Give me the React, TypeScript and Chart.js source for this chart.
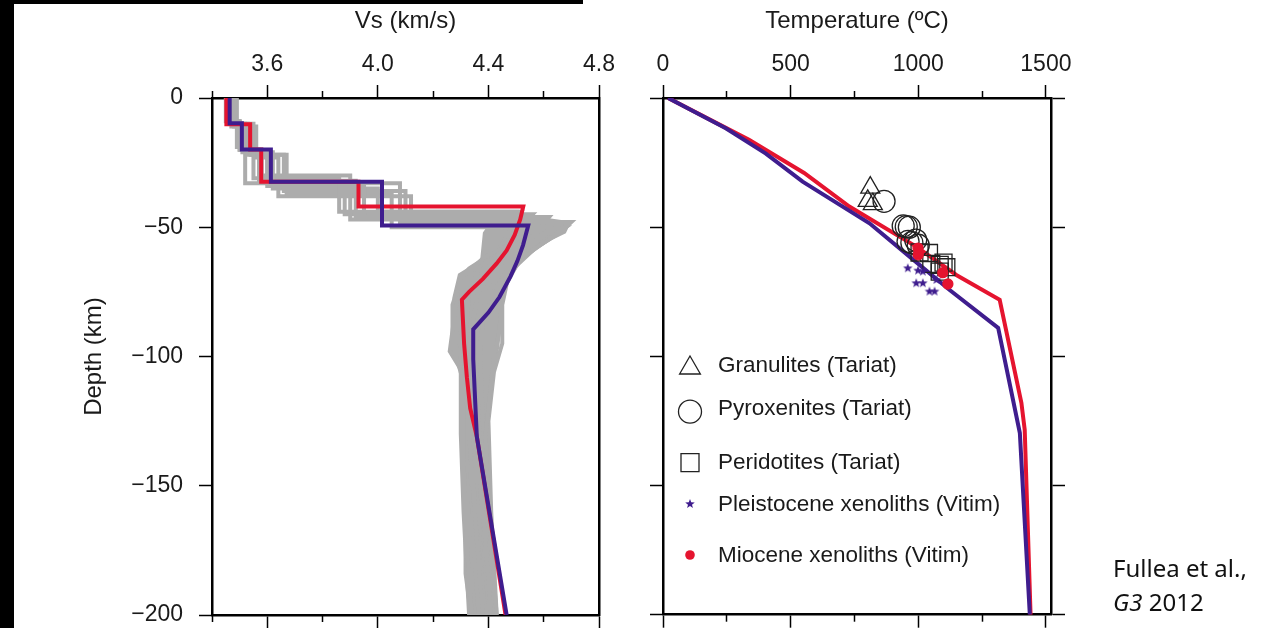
import React, { useEffect, useRef } from 'react';
import { Chart, registerables } from 'chart.js';

Chart.register(...registerables);

const FONT = '"Liberation Sans", Arial, Helvetica, sans-serif';
const RED = '#e5142f';
const PURPLE = '#3f1d8e';
const GRAY = '#acacac';
const INK = '#1a1a1a';

// ---------- axes ----------
const VS_MAJOR_TICKS = [3.6, 4.0, 4.4, 4.8];
const VS_TICK_LABELS = ['3.6', '4.0', '4.4', '4.8'];
const VS_MINOR_TICKS = [3.4, 3.8, 4.2, 4.6];
const DEPTH_TICKS = [0, -50, -100, -150, -200];
const DEPTH_TICK_LABELS = ['0', '\u221250', '\u2212100', '\u2212150', '\u2212200'];
const TEMP_MAJOR_TICKS = [0, 500, 1000, 1500];
const TEMP_TICK_LABELS = ['0', '500', '1000', '1500'];
const TEMP_MINOR_TICKS = [250, 750, 1250];

// ---------- left panel: Vs profiles ----------
const purpleCrustVs = [3.464, 3.508, 3.613, 4.015];
const purpleCrustBase = [-9.8, -19.9, -32.4, -49.3];
const purpleMantleVs = [4.544, 4.525, 4.505, 4.48, 4.44, 4.4, 4.345, 4.345, 4.358, 4.466];
const purpleMantleDepth = [-49.3, -57, -63, -69, -77, -83, -89.5, -101, -131, -200];

const redCrustVs = [3.452, 3.538, 3.578, 3.93];
const redCrustBase = [-10.2, -19.9, -32.4, -42];
const redMantleVs = [4.526, 4.515, 4.495, 4.466, 4.43, 4.38, 4.33, 4.304, 4.312, 4.322, 4.334, 4.358, 4.462];
const redMantleDepth = [-42, -47, -53, -59, -64, -70, -75, -78, -95, -108, -120, -131, -200];

const grayCrustVs = [
  [3.46, 3.5, 3.55, 3.86],
  [3.47, 3.52, 3.6, 3.95],
  [3.48, 3.54, 3.66, 4.1],
  [3.46, 3.53, 3.58, 3.9],
  [3.45, 3.49, 3.52, 3.88],
  [3.49, 3.56, 3.64, 4.12],
  [3.47, 3.51, 3.62, 4.0],
  [3.48, 3.55, 3.67, 4.05],
  [3.46, 3.5, 3.57, 3.92],
  [3.47, 3.53, 3.6, 4.08],
];
const grayCrustBase = [
  [-9, -20, -31, -44],
  [-10, -21, -34, -46],
  [-11, -22, -36, -48],
  [-10, -20, -30, -47],
  [-9, -19, -33, -45],
  [-11, -23, -38, -49],
  [-10, -21, -35, -44],
  [-10, -22, -37, -50],
  [-9, -20, -32, -46],
  [-11, -22, -33, -48],
];
const grayMantleVs = [
  [4.52, 4.48, 4.4, 4.33, 4.3, 4.31, 4.33, 4.35, 4.38],
  [4.62, 4.55, 4.46, 4.4, 4.36, 4.35, 4.36, 4.38, 4.41],
  [4.7, 4.66, 4.57, 4.5, 4.45, 4.44, 4.42, 4.39, 4.4, 4.43],
  [4.6, 4.5, 4.38, 4.3, 4.27, 4.27, 4.31, 4.31, 4.32, 4.34],
  [4.56, 4.47, 4.35, 4.29, 4.27, 4.26, 4.3, 4.3, 4.31, 4.33],
  [4.66, 4.58, 4.48, 4.42, 4.38, 4.37, 4.38, 4.39, 4.42],
  [4.5, 4.44, 4.37, 4.33, 4.32, 4.33, 4.34, 4.36, 4.39],
  [4.68, 4.6, 4.52, 4.47, 4.45, 4.45, 4.42, 4.4, 4.41, 4.43],
  [4.58, 4.49, 4.33, 4.3, 4.28, 4.28, 4.32, 4.32, 4.33, 4.35],
  [4.64, 4.52, 4.42, 4.36, 4.34, 4.35, 4.36, 4.38, 4.4],
];
const grayMantleDepth = [
  [-44, -55, -65, -75, -90, -100, -130, -160, -200],
  [-46, -55, -65, -75, -90, -100, -130, -160, -200],
  [-48, -52, -58, -65, -75, -90, -100, -130, -160, -200],
  [-47, -55, -62, -70, -80, -95, -110, -140, -170, -200],
  [-45, -55, -65, -75, -90, -98, -105, -130, -160, -200],
  [-49, -55, -63, -72, -85, -100, -125, -160, -200],
  [-44, -55, -65, -75, -90, -110, -140, -170, -200],
  [-50, -56, -62, -70, -80, -95, -106, -125, -160, -200],
  [-46, -55, -66, -70, -78, -95, -110, -140, -170, -200],
  [-48, -56, -66, -76, -90, -110, -135, -165, -200],
];
const grayEnvelopeVs = [4.4, 4.52, 4.62, 4.7, 4.68, 4.63, 4.59, 4.54, 4.5, 4.47, 4.45, 4.45, 4.44, 4.42, 4.4, 4.39, 4.4, 4.42, 4.43,
  4.33, 4.31, 4.31, 4.3, 4.31, 4.26, 4.27, 4.27, 4.29, 4.37, 4.38];
const grayEnvelopeDepth = [-49, -46, -46.5, -47.8, -52.3, -54.9, -57.5, -61.4, -65.2, -70.4, -76.8, -83, -96, -106.5, -126, -132, -158, -184, -200,
  -200, -184, -158, -132, -106.5, -97, -83, -77, -68, -62.7, -52];

// ---------- right panel: geotherms and xenoliths ----------
const purpleGeoT = [20, 246, 403, 547, 809, 966, 1123, 1313, 1398, 1437];
const purpleGeoDepth = [0, -11.7, -21.5, -32.4, -48.5, -61.4, -74.3, -89, -129.7, -200];
const redGeoT = [20, 337, 553, 730, 992, 1149, 1319, 1404, 1417, 1440];
const redGeoDepth = [0, -16.2, -29, -42, -57.5, -68.5, -78.1, -118, -128.4, -200];

const granuliteT = [812, 802, 822];
const granuliteDepth = [-34.7, -39.8, -41.1];
const pyroxeniteT = [866, 941, 953, 965, 960, 975, 990, 1000];
const pyroxeniteDepth = [-40, -49.5, -49.8, -50, -55.5, -56, -55, -57];
const peridotiteT = [1005, 1042, 1051, 1084, 1099, 1110, 1084];
const peridotiteDepth = [-59.8, -60, -64.2, -64.6, -63.7, -65.5, -67.2];
const pleistoceneT = [959, 999, 1018, 992, 1018, 1044, 1064, 1071];
const pleistoceneDepth = [-65.9, -66.8, -67.2, -71.7, -71.7, -74.9, -74.9, -70.4];
const mioceneT = [999, 1000, 1096, 1116];
const mioceneDepth = [-58.1, -60.7, -67.6, -72];

const LEGEND_LABELS = [
  'Granulites (Tariat)',
  'Pyroxenites (Tariat)',
  'Peridotites (Tariat)',
  'Pleistocene xenoliths (Vitim)',
  'Miocene xenoliths (Vitim)',
];
const LEGEND_SYMBOLS = ['triangle', 'circle', 'square', 'star', 'dot'];

// ---------- helpers ----------
const zip = (xs: number[], ys: number[]) => xs.map((x, i) => ({ x, y: ys[i] }));

function stepProfile(crustVs: number[], crustBase: number[], mantleVs: number[], mantleDepth: number[]) {
  const pts: { x: number; y: number }[] = [];
  let top = 0;
  crustVs.forEach((v, i) => {
    pts.push({ x: v, y: top });
    pts.push({ x: v, y: crustBase[i] });
    top = crustBase[i];
  });
  mantleVs.forEach((v, i) => pts.push({ x: v, y: mantleDepth[i] }));
  return pts;
}

function makeStarImage(outer: number, color: string) {
  const size = Math.ceil(outer * 2 + 2);
  const c = document.createElement('canvas');
  c.width = size;
  c.height = size;
  const g = c.getContext('2d')!;
  g.fillStyle = color;
  g.beginPath();
  for (let k = 0; k < 10; k++) {
    const r = k % 2 === 0 ? outer : outer * 0.42;
    const a = -Math.PI / 2 + (k * Math.PI) / 5;
    const px = size / 2 + r * Math.cos(a);
    const py = size / 2 + r * Math.sin(a);
    if (k === 0) g.moveTo(px, py);
    else g.lineTo(px, py);
  }
  g.closePath();
  g.fill();
  return c;
}

const setTicks = (values: number[]) => (scale: any) => {
  scale.ticks = values.map((value) => ({ value }));
};

function markAxis(position: string, min: number, max: number, values: number[], tickLength: number, size: number, weight: number, border: boolean) {
  const horizontal = position === 'top' || position === 'bottom';
  return {
    type: 'linear',
    display: true,
    position,
    min,
    max,
    weight,
    afterBuildTicks: setTicks(values),
    afterFit: (scale: any) => {
      if (horizontal) scale.height = size;
      else scale.width = size;
      scale.paddingTop = 0;
      scale.paddingBottom = 0;
      scale.paddingLeft = 0;
      scale.paddingRight = 0;
    },
    ticks: { display: false },
    grid: {
      display: tickLength > 0,
      drawOnChartArea: false,
      drawTicks: tickLength > 0,
      tickLength,
      tickWidth: 1.5,
      tickColor: '#000',
      color: '#000',
    },
    border: { display: border, width: 2.5, color: '#000' },
  };
}

function labelledTopAxis(min: number, max: number, values: number[], labels: string[], title: string) {
  const axis: any = markAxis('top', min, max, values, 13, 98, 1, true);
  axis.ticks = {
    display: true,
    autoSkip: false,
    maxRotation: 0,
    minRotation: 0,
    padding: 9,
    color: INK,
    font: { family: FONT, size: 23, lineHeight: 1.0 },
    callback: (_v: any, i: number) => labels[i],
  };
  axis.title = {
    display: true,
    text: title,
    color: INK,
    font: { family: FONT, size: 24, lineHeight: 1.2 },
    padding: { top: 7, bottom: 0 },
  };
  return axis;
}

const lineDs = (data: any[], color: string, width: number) => ({
  type: 'line',
  data,
  borderColor: color,
  backgroundColor: color,
  borderWidth: width,
  pointRadius: 0,
  tension: 0,
  fill: false,
  borderJoinStyle: 'miter',
  borderCapStyle: 'butt',
});

function leftConfig(): any {
  const grays = grayCrustVs.map((cv, i) =>
    lineDs(stepProfile(cv, grayCrustBase[i], grayMantleVs[i], grayMantleDepth[i]), GRAY, 4)
  );
  const envelope = {
    type: 'line',
    data: zip(grayEnvelopeVs, grayEnvelopeDepth),
    borderWidth: 0,
    borderColor: GRAY,
    backgroundColor: GRAY,
    pointRadius: 0,
    tension: 0,
    fill: 'shape',
  };
  const yAxis: any = markAxis('left', -200, 0, DEPTH_TICKS, 13, 212, 1, true);
  yAxis.ticks = {
    display: true,
    autoSkip: false,
    padding: 16,
    color: INK,
    font: { family: FONT, size: 23, lineHeight: 1.0 },
    callback: (_v: any, i: number) => DEPTH_TICK_LABELS[i],
  };
  yAxis.title = {
    display: true,
    text: 'Depth (km)',
    color: INK,
    font: { family: FONT, size: 24, lineHeight: 1.2 },
    padding: { top: 80, bottom: 0 },
  };
  return {
    type: 'line',
    data: {
      datasets: [
        lineDs(stepProfile(purpleCrustVs, purpleCrustBase, purpleMantleVs, purpleMantleDepth), PURPLE, 4),
        lineDs(stepProfile(redCrustVs, redCrustBase, redMantleVs, redMantleDepth), RED, 4),
        ...grays,
        envelope,
      ],
    },
    options: {
      responsive: false,
      animation: false,
      events: [],
      layout: { padding: { left: 0, top: 0, right: 41, bottom: 0 } },
      plugins: { legend: { display: false }, tooltip: { enabled: false } },
      scales: {
        x: labelledTopAxis(3.4, 4.8, VS_MAJOR_TICKS, VS_TICK_LABELS, 'Vs (km/s)'),
        xMinor: markAxis('top', 3.4, 4.8, VS_MINOR_TICKS, 7, 0, 0, false),
        xBottom: markAxis('bottom', 3.4, 4.8, VS_MAJOR_TICKS, 13, 13, 1, true),
        xBottomMinor: markAxis('bottom', 3.4, 4.8, VS_MINOR_TICKS, 7, 0, 0, false),
        y: yAxis,
        yRight: markAxis('right', -200, 0, DEPTH_TICKS, 0, 0, 1, true),
      },
    },
  };
}

const starImage = typeof document !== 'undefined' ? makeStarImage(5, PURPLE) : null;

function drawLegendSymbol(ctx: CanvasRenderingContext2D, kind: string, x: number, y: number) {
  ctx.save();
  ctx.lineWidth = 1.3;
  ctx.strokeStyle = '#222';
  ctx.beginPath();
  if (kind === 'triangle') {
    const r = 12;
    ctx.moveTo(x, y - r);
    ctx.lineTo(x + r * 0.866, y + r / 2);
    ctx.lineTo(x - r * 0.866, y + r / 2);
    ctx.closePath();
    ctx.stroke();
  } else if (kind === 'circle') {
    ctx.arc(x, y, 11.5, 0, Math.PI * 2);
    ctx.stroke();
  } else if (kind === 'square') {
    ctx.rect(x - 9, y - 9, 18, 18);
    ctx.stroke();
  } else if (kind === 'star' && starImage) {
    ctx.drawImage(starImage, x - starImage.width / 2, y - starImage.height / 2);
  } else if (kind === 'dot') {
    ctx.fillStyle = RED;
    ctx.arc(x, y, 4.8, 0, Math.PI * 2);
    ctx.fill();
  }
  ctx.restore();
}

const LEGEND_SYMBOL_OFFSETS = [270, 313.7, 364.7, 406, 457];
const LEGEND_TEXT_OFFSETS = [267.5, 310.5, 365, 407, 457.5];

const symbolLegend = {
  id: 'symbolLegend',
  afterDraw(chart: any) {
    const { ctx, chartArea } = chart;
    ctx.save();
    ctx.font = `22.5px ${FONT}`;
    ctx.fillStyle = INK;
    ctx.textAlign = 'left';
    ctx.textBaseline = 'middle';
    LEGEND_LABELS.forEach((label, i) => {
      drawLegendSymbol(ctx, LEGEND_SYMBOLS[i], chartArea.left + 27, chartArea.top + LEGEND_SYMBOL_OFFSETS[i]);
      ctx.fillText(label, chartArea.left + 55, chartArea.top + LEGEND_TEXT_OFFSETS[i]);
    });
    ctx.restore();
  },
};

const markerDs = (data: any[], style: any, radius: number, fill: string, stroke: string) => ({
  type: 'line',
  data,
  showLine: false,
  pointStyle: style,
  pointRadius: radius,
  pointBorderWidth: 1.3,
  pointBackgroundColor: fill,
  pointBorderColor: stroke,
  borderColor: stroke,
  backgroundColor: fill,
});

function rightConfig(): any {
  return {
    type: 'line',
    data: {
      datasets: [
        markerDs(zip(mioceneT, mioceneDepth), 'circle', 5, RED, RED),
        markerDs(zip(pleistoceneT, pleistoceneDepth), starImage, 5, PURPLE, PURPLE),
        markerDs(zip(peridotiteT, peridotiteDepth), 'rect', 12, 'rgba(0,0,0,0)', '#222'),
        markerDs(zip(pyroxeniteT, pyroxeniteDepth), 'circle', 11, 'rgba(0,0,0,0)', '#222'),
        markerDs(zip(granuliteT, granuliteDepth), 'triangle', 11, 'rgba(0,0,0,0)', '#222'),
        lineDs(zip(purpleGeoT, purpleGeoDepth), PURPLE, 4),
        lineDs(zip(redGeoT, redGeoDepth), RED, 4),
      ],
    },
    plugins: [symbolLegend],
    options: {
      responsive: false,
      animation: false,
      events: [],
      layout: { padding: { left: 0, top: 0, right: 55, bottom: 0 } },
      plugins: { legend: { display: false }, tooltip: { enabled: false } },
      scales: {
        x: labelledTopAxis(0, 1520, TEMP_MAJOR_TICKS, TEMP_TICK_LABELS, 'Temperature (\u00baC)'),
        xMinor: markAxis('top', 0, 1520, TEMP_MINOR_TICKS, 7, 0, 0, false),
        xBottom: markAxis('bottom', 0, 1520, TEMP_MAJOR_TICKS, 13, 13, 1, true),
        xBottomMinor: markAxis('bottom', 0, 1520, TEMP_MINOR_TICKS, 7, 0, 0, false),
        y: markAxis('left', -200, 0, DEPTH_TICKS, 13, 43, 1, true),
        yRight: markAxis('right', -200, 0, DEPTH_TICKS, 14, 14, 1, true),
      },
    },
  };
}

export default function App() {
  const leftRef = useRef<HTMLCanvasElement>(null);
  const rightRef = useRef<HTMLCanvasElement>(null);

  useEffect(() => {
    Chart.defaults.font.family = FONT;
    Chart.defaults.color = INK;
    const left = new Chart(leftRef.current as HTMLCanvasElement, leftConfig());
    const right = new Chart(rightRef.current as HTMLCanvasElement, rightConfig());
    return () => {
      left.destroy();
      right.destroy();
    };
  }, []);

  return (
    <div style={{ position: 'absolute', left: 0, top: 0, width: 1264, height: 628, background: '#fff', overflow: 'hidden' }}>
      <canvas ref={leftRef} width={640} height={628}
        style={{ position: 'absolute', left: 0, top: 0, width: 640, height: 628 }} />
      <canvas ref={rightRef} width={500} height={628}
        style={{ position: 'absolute', left: 620, top: 0, width: 500, height: 628 }} />
      <div style={{ position: 'absolute', left: 0, top: 0, width: 14, height: 628, background: '#000' }} />
      <div style={{ position: 'absolute', left: 0, top: 0, width: 583, height: 4, background: '#000' }} />
      <div style={{ position: 'absolute', left: 1113, top: 551, fontFamily: '"Noto Sans", sans-serif', fontSize: 24, lineHeight: '34px', color: '#111', whiteSpace: 'nowrap' }}>
        <div>Fullea et al.,</div>
        <div><i>G3</i> 2012</div>
      </div>
    </div>
  );
}
